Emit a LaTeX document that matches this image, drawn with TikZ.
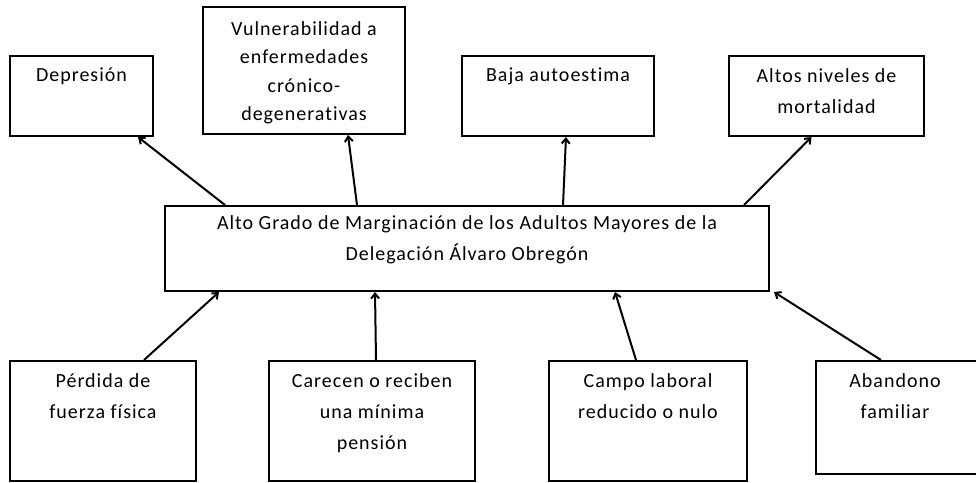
\documentclass[tikz,border=0pt]{standalone}
\usepackage{fontspec}
\setmainfont{Carlito}[LetterSpace=5,Ligatures={NoCommon}]
\usetikzlibrary{arrows.meta}

\tikzset{
  box/.style={draw, line width=2pt, inner sep=0pt},
  txt/.style={anchor=north, align=center, inner sep=0pt, yshift=-13pt,
    font=\fontsize{20}{31}\selectfont},
  flecha/.style={line width=2pt, -{Straight Barb[length=5pt,width=8pt]}}
}

\begin{document}
\begin{tikzpicture}[x=1pt,y=-1pt]
\useasboundingbox (0,0) rectangle (976,482);
\begin{scope}
% efectos
\node[box, minimum width=143, minimum height=80, label={[txt]north:Depresión}] (dep) at (81.5,96) {};
\node[box, minimum width=202, minimum height=127, label={[txt,yshift=-2pt,font=\fontsize{20}{28.5}\selectfont]north:Vulnerabilidad a\\enfermedades\\crónico-\\degenerativas}] (vul) at (304,70.5) {};
\node[box, minimum width=192, minimum height=80, label={[txt]north:Baja autoestima}] (baj) at (558,96) {};
\node[box, minimum width=195, minimum height=80, label={[txt]north:Altos niveles de\\mortalidad}] (alt) at (826.5,96) {};

% problema central
\node[box, minimum width=604, minimum height=85, label={[txt,yshift=3pt]north:Alto Grado de Marginación de los Adultos Mayores de la\\Delegación Álvaro Obregón}] (cen) at (467,248.5) {};

% causas
\node[box, minimum width=186, minimum height=120, label={[txt]north:Pérdida de\\fuerza física}] (per) at (103,421) {};
\node[box, minimum width=206, minimum height=120, label={[txt]north:Carecen o reciben\\una mínima\\pensión}] (car) at (372,421) {};
\node[box, minimum width=198, minimum height=120, label={[txt]north:Campo laboral\\reducido o nulo}] (cam) at (648,421) {};
\node[box, minimum width=170, minimum height=113, label={[txt,xshift=-6pt]north:Abandono\\familiar}] (aba) at (901,417.5) {};

\draw[flecha] ([xshift=61]cen.north west) -- ([xshift=-16]dep.south east);
\draw[flecha] ([xshift=193]cen.north west) -- ([xshift=44]vul.south);
\draw[flecha] ([xshift=399]cen.north west) -- ([xshift=8]baj.south);
\draw[flecha] ([xshift=580]cen.north west) -- ([xshift=-15]alt.south);

\draw[flecha] ([xshift=41]per.north) -- ([xshift=55]cen.south west);
\draw[flecha] ([xshift=4]car.north) -- ([xshift=211]cen.south west);
\draw[flecha] ([xshift=-12]cam.north) -- ([xshift=451]cen.south west);
\draw[flecha] ([xshift=-20]aba.north) -- ([xshift=4]cen.south east);
\end{scope}
\end{tikzpicture}
\end{document}
